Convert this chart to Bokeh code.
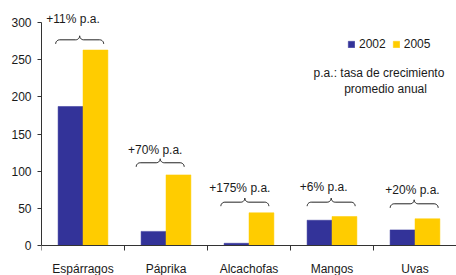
import numpy as np
from bokeh.plotting import figure
from bokeh.models import (ColumnDataSource, FixedTicker, Legend, LegendItem, Range1d)
from bokeh.core.properties import value
from bokeh.embed import file_html
from bokeh.resources import INLINE

# ---- data ----
categories = ["Espárragos", "Páprika", "Alcachofas", "Mangos", "Uvas"]
values_2002 = [187, 19, 3, 34, 21]
values_2005 = [263, 95, 44, 39, 36]
growth_labels = ["+11% p.a.", "+70% p.a.", "+175% p.a.", "+6% p.a.", "+20% p.a."]
years = ["2002", "2005"]
y_ticks = [0, 50, 100, 150, 200, 250, 300]

# annotation layout (data units)
brace_level = [276.7, 111.3, 58.3, 58.3, 56.1]
label_level = [305.0, 129.1, 77.6, 78.4, 75.3]
label_shift = [-0.12, -0.13, -0.11, -0.10, -0.03]
brace_shift = [-0.04, -0.07, -0.05, -0.01, -0.01]

BLUE = "#333399"
YELLOW = "#FFCC00"
FONT = "Liberation Sans"
TXT = "#1a1a1a"

PX_PER_UNIT = 223 / 300.0
Y_START = -30 / PX_PER_UNIT
Y_END = 245 / PX_PER_UNIT + Y_START * 0
Y_END = (245) / PX_PER_UNIT
px_y = 1 / PX_PER_UNIT          # data units per px (y)
px_x = 1 / 83.0                 # data units per px (x)

p = figure(width=456, height=275, output_backend="svg", toolbar_location=None,
           x_range=Range1d(0, 5), y_range=Range1d(Y_START, Y_END),
           min_border_left=41, min_border_right=0, min_border_top=0, min_border_bottom=0)
p.outline_line_color = None
p.grid.grid_line_color = None
p.background_fill_color = "white"
p.border_fill_color = "white"

n = len(categories)
centers = np.arange(n) + 0.5
bw = 0.3
src = ColumnDataSource(dict(x02=centers - bw / 2, x05=centers + bw / 2,
                            v02=values_2002, v05=values_2005))
r02 = p.vbar(x="x02", top="v02", width=bw, source=src, fill_color=BLUE, line_color=BLUE, line_width=0.5)
r05 = p.vbar(x="x05", top="v05", width=bw, source=src, fill_color=YELLOW, line_color=YELLOW, line_width=0.5)

# axes
xa = p.xaxis[0]
xa.fixed_location = 0
xa.ticker = FixedTicker(ticks=list(centers), minor_ticks=list(range(n)))
xa.major_label_overrides = {float(c): lab for c, lab in zip(centers, categories)}
xa.major_tick_line_color = None
xa.major_tick_out = 0
xa.major_tick_in = 0
xa.minor_tick_out = 5
xa.minor_tick_in = 0
xa.minor_tick_line_color = "#333333"
xa.axis_line_color = "#333333"
xa.major_label_standoff = 11
xa.major_label_text_font = FONT
xa.major_label_text_font_size = "12px"
xa.major_label_text_color = TXT

ya = p.yaxis[0]
ya.ticker = FixedTicker(ticks=y_ticks)
ya.bounds = (0, 300)
ya.minor_tick_line_color = None
ya.major_tick_out = 4
ya.major_tick_in = 0
ya.major_tick_line_color = "#333333"
ya.axis_line_color = "#333333"
ya.major_label_standoff = 6
ya.major_label_text_font = FONT
ya.major_label_text_font_size = "12px"
ya.major_label_text_color = TXT


# braces
def brace(cx, level, half_w_px=24, drop_px=4, peak_px=4, r_px=4, steps=8):
    t = np.linspace(0, np.pi / 2, steps)
    xs, ys = [], []
    xs += list(-half_w_px + r_px - r_px * np.cos(t)); ys += list(-drop_px + drop_px * np.sin(t))
    xs += list(-r_px + r_px * np.sin(t)); ys += list(peak_px - peak_px * np.cos(t))
    xs += list(r_px - r_px * np.cos(t)); ys += list(peak_px - peak_px * np.sin(t))
    xs += list(half_w_px - r_px + r_px * np.sin(t)); ys += list(-drop_px * (1 - np.cos(t)))
    xs = [cx + v * px_x for v in xs]
    ys = [level + v * px_y for v in ys]
    return xs, ys


bx, by = [], []
for i in range(n):
    xs, ys = brace(centers[i] + brace_shift[i], brace_level[i])
    bx.append(xs); by.append(ys)
p.multi_line(xs=bx, ys=by, line_color="#222222", line_width=1)

p.text(x=[c + s for c, s in zip(centers, label_shift)], y=label_level, text=growth_labels,
       text_font=value(FONT), text_font_size="12px", text_color=TXT,
       text_align="center", text_baseline="middle")

# note
p.text(x=[4.066, 4.145], y=[232.7, 211.2],
       text=["p.a.: tasa de crecimiento", "promedio anual"],
       text_font=value(FONT), text_font_size="12px", text_color=TXT,
       text_align="center", text_baseline="middle")

legend = Legend(items=[LegendItem(label=years[0], renderers=[r02]),
                       LegendItem(label=years[1], renderers=[r05])],
                orientation="horizontal", location=(306, 224),
                glyph_width=8, glyph_height=8, label_standoff=4, spacing=6,
                padding=0, margin=0, border_line_color=None, background_fill_alpha=0,
                label_text_font=FONT, label_text_font_size="12px", label_text_color=TXT,
                label_height=14)
p.add_layout(legend)

open("out.html", "w").write(file_html(p, INLINE))
